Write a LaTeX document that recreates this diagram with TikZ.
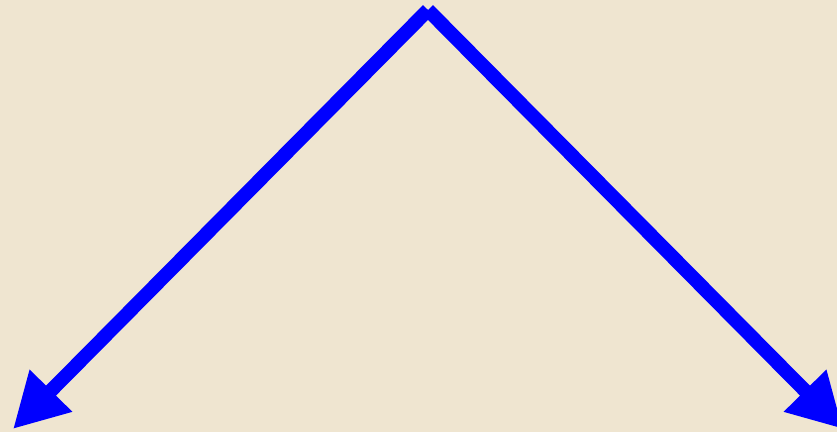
\documentclass[tikz,border=0pt]{standalone}
\usetikzlibrary{arrows.meta}
\definecolor{bg}{RGB}{239,229,208}
\definecolor{arrowblue}{RGB}{0,0,255}
\tikzset{bigarrow/.style={draw=arrowblue, line width=14pt, line cap=butt, -{Triangle[length=54pt,width=56pt]}}}
\begin{document}
\begin{tikzpicture}[x=1pt,y=1pt]
\fill[bg] (0,0) rectangle (837,432);
\useasboundingbox (0,0) rectangle (837,432);
\coordinate (top) at (428,422);
\coordinate (left) at (13,3);
\coordinate (right) at (843,3);
\draw[bigarrow] (top) -- (left);
\draw[bigarrow] (top) -- (right);
\end{tikzpicture}
\end{document}
